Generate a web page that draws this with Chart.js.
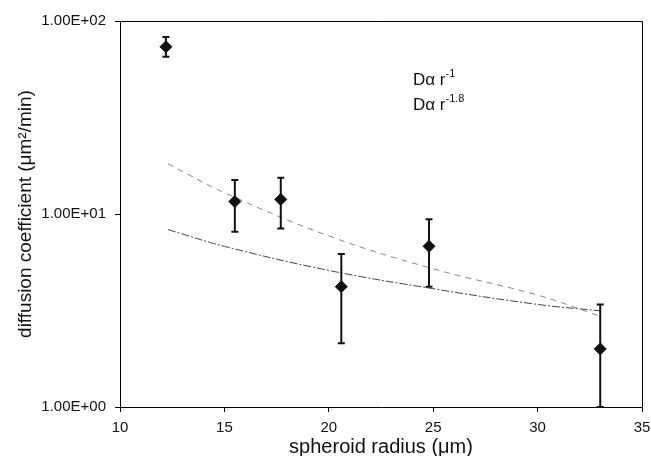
<!DOCTYPE html>
<html>
<head>
<meta charset="utf-8">
<script src="https://cdn.jsdelivr.net/npm/chart.js@4"></script>
<style>
  html, body { margin: 0; padding: 0; background: #fff; }
  #wrap { width: 651px; height: 456px; }
</style>
</head>
<body>
<div id="wrap"><canvas id="graph" width="651" height="456"></canvas></div>
<script>
// measured data (radius in um, diffusion coefficient in um^2/min)
const radius = [12.2, 15.5, 17.7, 20.6, 24.8, 33.0];
const diffCoef = [73.5, 11.6, 11.9, 4.2, 6.8, 2.0];
const errHigh = [82.5, 15.0, 15.4, 6.2, 9.4, 3.4];
const errLow = [65.3, 8.1, 8.4, 2.14, 4.2, 1.0];

// fitted lines
const fitX = [12.3, 15, 20, 25, 30, 33];
const fitR1 = [8.3, 6.8, 5.1, 4.1, 3.4, 3.15];
const fitR18 = [18.2, 12.9, 7.7, 5.2, 3.8, 2.95];

const yTicks = [1, 10, 100];

const ctx = document.querySelector('#graph');

const frame = {
    id: 'frame',
    afterDatasetsDraw(chart) {
        const c = chart.ctx, a = chart.chartArea;
        const xs = chart.scales.x, ys = chart.scales.y;
        c.save();
        // error bars
        c.strokeStyle = '#111';
        c.lineWidth = 2;
        radius.forEach((r, i) => {
            const px = xs.getPixelForValue(r);
            const top = ys.getPixelForValue(errHigh[i]);
            const bot = Math.min(ys.getPixelForValue(errLow[i]), a.bottom);
            c.beginPath();
            c.moveTo(px, top); c.lineTo(px, bot);
            c.moveTo(px - 3.5, top); c.lineTo(px + 3.5, top);
            c.moveTo(px - 3.5, bot); c.lineTo(px + 3.5, bot);
            c.stroke();
        });
        // top and right border
        c.lineWidth = 1;
        c.strokeStyle = '#000';
        c.beginPath();
        c.moveTo(a.left, a.top + 0.5); c.lineTo(a.right + 0.5, a.top + 0.5);
        c.lineTo(a.right + 0.5, a.bottom);
        c.stroke();
        // legend text
        c.fillStyle = '#111';
        c.textBaseline = 'alphabetic';
        const lx = 413;
        c.font = '17px "Liberation Sans", Arial, sans-serif';
        c.fillText('D\u03b1 r', lx, 85);
        c.fillText('D\u03b1 r', lx, 110);
        const w = c.measureText('D\u03b1 r').width;
        c.font = '11px "Liberation Sans", Arial, sans-serif';
        c.fillText('-1', lx + w, 77);
        c.fillText('-1.8', lx + w, 102);
        c.restore();
    }
};

new Chart(ctx, {
    type: 'scatter',
    data: {
        datasets: [{
            label: 'D',
            data: radius.map((r, i) => ({ x: r, y: diffCoef[i] })),
            pointStyle: 'rectRot',
            pointRadius: 6,
            backgroundColor: '#111',
            borderColor: '#111',
            order: 0
        }, {
            label: 'r-1',
            type: 'line',
            data: fitX.map((r, i) => ({ x: r, y: fitR1[i] })),
            borderColor: '#444',
            borderWidth: 1,
            borderDash: [8, 2, 2, 2],
            pointRadius: 0,
            tension: 0.4,
            fill: false,
            order: 1
        }, {
            label: 'r-1.8',
            type: 'line',
            data: fitX.map((r, i) => ({ x: r, y: fitR18[i] })),
            borderColor: '#888',
            borderWidth: 1,
            borderDash: [6, 5],
            pointRadius: 0,
            tension: 0.4,
            fill: false,
            order: 1
        }]
    },
    options: {
        responsive: false,
        animation: false,
        layout: { padding: { top: 21, right: 0, left: 0, bottom: 0 } },
        plugins: { legend: { display: false }, tooltip: { enabled: false } },
        scales: {
            x: {
                type: 'linear',
                min: 10, max: 35,
                afterFit(scale) {
                    scale.height = 49;
                    scale.paddingLeft = 0;
                    scale.paddingRight = 9;
                },
                border: { color: '#000', width: 1 },
                grid: { drawOnChartArea: false, tickLength: 5, color: '#000' },
                ticks: {
                    stepSize: 5, color: '#111', padding: 7, maxRotation: 0,
                    font: { family: '"Liberation Sans", Arial', size: 15 }
                },
                title: {
                    display: true, text: 'spheroid radius (\u03bcm)', color: '#111',
                    padding: { top: 0, bottom: -3 },
                    font: { family: '"Liberation Sans", Arial', size: 20 }
                }
            },
            y: {
                type: 'logarithmic',
                min: 1, max: 100,
                afterFit(scale) { scale.width = 120; },
                afterBuildTicks(scale) { scale.ticks = yTicks.map(v => ({ value: v })); },
                border: { color: '#000', width: 1 },
                grid: { drawOnChartArea: false, tickLength: 5, color: '#000' },
                ticks: {
                    color: '#111', padding: 9,
                    font: { family: '"Liberation Sans", Arial', size: 15 },
                    callback: v => v.toExponential(2).toUpperCase().replace(/E([+-])(\d)$/, 'E$10$2')
                },
                title: {
                    display: true, text: 'diffusion coefficient (\u03bcm\u00b2/min)', color: '#111',
                    padding: { top: 14, bottom: 8 },
                    font: { family: '"Liberation Sans", Arial', size: 19 }
                }
            }
        }
    },
    plugins: [frame]
});
</script>
</body>
</html>
